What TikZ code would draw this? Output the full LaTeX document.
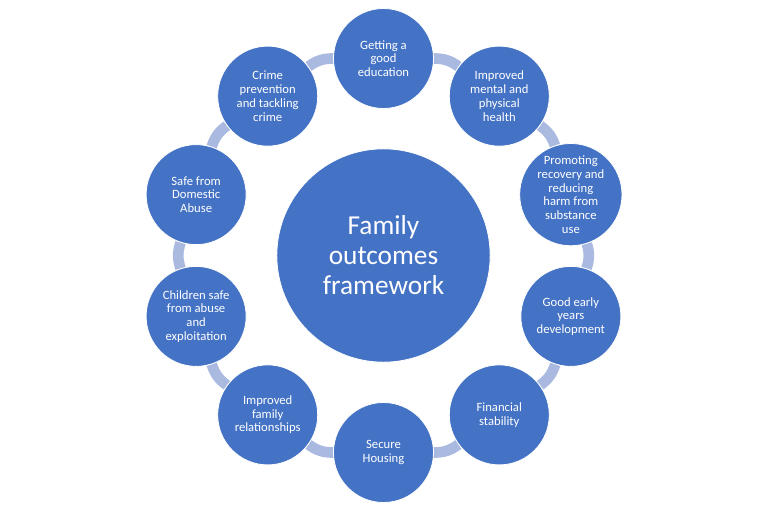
\documentclass[tikz,border=0pt]{standalone}
\usepackage{fontspec}
\setmainfont{Carlito}
\usetikzlibrary{backgrounds}
\definecolor{ringblue}{RGB}{68,114,196}
\definecolor{linkblue}{RGB}{169,185,224}

\begin{document}
\begin{tikzpicture}[x=0.75pt,y=0.75pt,
    outc/.style={circle,fill=ringblue,draw=white,line width=0.6pt,minimum size=75pt,inner sep=0pt,
        align=center,text=white,font=\fontsize{9.5}{10.3}\selectfont},
    hubc/.style={circle,fill=ringblue,draw=white,line width=0.6pt,minimum size=160pt,inner sep=0pt,
        align=center,text=white,font=\fontsize{20.5}{22.5}\selectfont},
    link/.style={draw=linkblue,line width=8pt,bend right=18}]
            \useasboundingbox (-383.5,-256.5) rectangle (384.5,255.5);
            \node[hubc] (hub) at (0,0) {Family\\outcomes\\framework};
            \node[outc] (edu) at (90:197) {Getting a\\good\\education};
            \node[outc] (health) at (54:197) {Improved\\mental and\\physical\\health};
            \node[outc] (recovery) at (18:197) {Promoting\\recovery and\\reducing\\harm from\\substance\\use};
            \node[outc] (early) at (-18:197) {Good early\\years\\development};
            \node[outc] (finance) at (-54:197) {Financial\\stability};
            \node[outc] (housing) at (-90:197) {Secure\\Housing};
            \node[outc] (family) at (-126:197) {Improved\\family\\relationships};
            \node[outc] (children) at (-162:197) {Children safe\\from abuse\\and\\exploitation};
            \node[outc] (abuse) at (162:197) {Safe from\\Domestic\\Abuse};
            \node[outc] (crime) at (126:197) {Crime\\prevention\\and tackling\\crime};
            \begin{scope}[on background layer]
            \draw[link] (early) to (recovery);
            \draw[link] (recovery) to (health);
            \draw[link] (health) to (edu);
            \draw[link] (edu) to (crime);
            \draw[link] (crime) to (abuse);
            \draw[link] (abuse) to (children);
            \draw[link] (children) to (family);
            \draw[link] (family) to (housing);
            \draw[link] (housing) to (finance);
            \draw[link] (finance) to (early);
            \end{scope}
        \end{tikzpicture}
\end{document}
